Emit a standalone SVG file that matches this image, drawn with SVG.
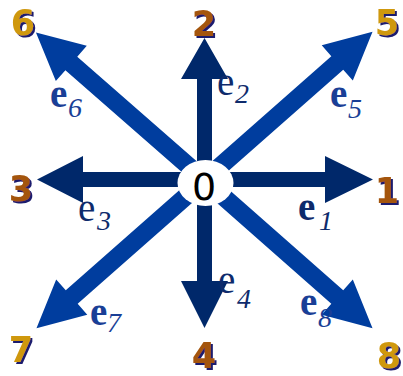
<svg xmlns="http://www.w3.org/2000/svg" width="403" height="376" viewBox="0 0 403 376">
<style>
.ax{fill:#00286a}
.dg{fill:#003d9e}
.num{font-family:"DejaVu Sans",Verdana,sans-serif;font-weight:bold;font-size:35px;text-anchor:middle;filter:url(#sh)}
.gold{fill:#cf980f}
.brown{fill:#a4550c}
.e{font-family:"Liberation Serif","DejaVu Serif","Times New Roman",serif;font-size:39px}
.eb{font-weight:bold}
.ed{fill:#1a3f96}
.ea{fill:#0e2b6c}
.sub{font-family:"Liberation Serif","DejaVu Serif","Times New Roman",serif;font-style:italic;font-weight:normal;font-size:28px}
.zero{font-family:"DejaVu Sans",sans-serif;font-size:38px;text-anchor:middle;fill:#000}
</style>
<defs>
<filter id="sh" x="-20%" y="-20%" width="150%" height="150%">
<feDropShadow dx="2" dy="2" stdDeviation="0" flood-color="#1c1c6e" flood-opacity="1"/>
</filter>
<polygon id="diag" points="0,-9 177,-9 177,-23.5 224,0 177,23.5 177,9 0,9"/>
</defs>
<g id="connectors">
<polygon id="a1" class="ax" points="204,172 325,172 325,156 373,179.5 325,203 325,187 204,187"/>
<polygon id="a3" class="ax" points="205,172 83,172 83,156 37,179.5 83,203 83,187 205,187"/>
<polygon id="a2" class="ax" points="197,180 197,79 181,79 204.5,38 228,79 212,79 212,180"/>
<polygon id="a4" class="ax" points="197,179 197,281 181,281 204.5,328 228,281 212,281 212,179"/>
<use id="a6" class="dg" href="#diag" transform="translate(204.5,180) rotate(-138.8)"/>
<use id="a5" class="dg" href="#diag" transform="translate(204.5,180) rotate(-41.4)"/>
<use id="a7" class="dg" href="#diag" transform="translate(204.5,180) rotate(138.6)"/>
<use id="a8" class="dg" href="#diag" transform="translate(204.5,180) rotate(41.4)"/>
</g>
<g id="n0">
<ellipse cx="205.5" cy="183" rx="28" ry="23" fill="#fff"/>
<text class="zero" x="204" y="200">0</text>
</g>
<g id="n1"><text class="num brown" x="387" y="203">1</text></g>
<g id="n2"><text class="num brown" x="204" y="36">2</text></g>
<g id="n3"><text class="num brown" x="21" y="201">3</text></g>
<g id="n4"><text class="num brown" x="204" y="368">4</text></g>
<g id="n5"><text class="num gold" x="387" y="35">5</text></g>
<g id="n6"><text class="num gold" x="23" y="35">6</text></g>
<g id="n7"><text class="num gold" x="21" y="362">7</text></g>
<g id="n8"><text class="num gold" x="389" y="368">8</text></g>
<g id="labels">
<text class="e eb ea" x="298" y="220">e<tspan class="sub" x="319" y="230">1</tspan></text>
<text class="e ea" x="217" y="95">e<tspan class="sub" x="235" y="103">2</tspan></text>
<text class="e ea" x="78" y="221">e<tspan class="sub" x="97" y="230">3</tspan></text>
<text class="e ea" x="218" y="293">e<tspan class="sub" x="237" y="308">4</tspan></text>
<text class="e eb ed" x="330" y="107">e<tspan class="sub" x="348" y="118">5</tspan></text>
<text class="e eb ed" x="50" y="107">e<tspan class="sub" x="68" y="117">6</tspan></text>
<text class="e eb ed" x="90" y="325">e<tspan class="sub" x="107" y="332">7</tspan></text>
<text class="e eb ed" x="300" y="315">e<tspan class="sub" x="318" y="327">8</tspan></text>
</g>
</svg>
